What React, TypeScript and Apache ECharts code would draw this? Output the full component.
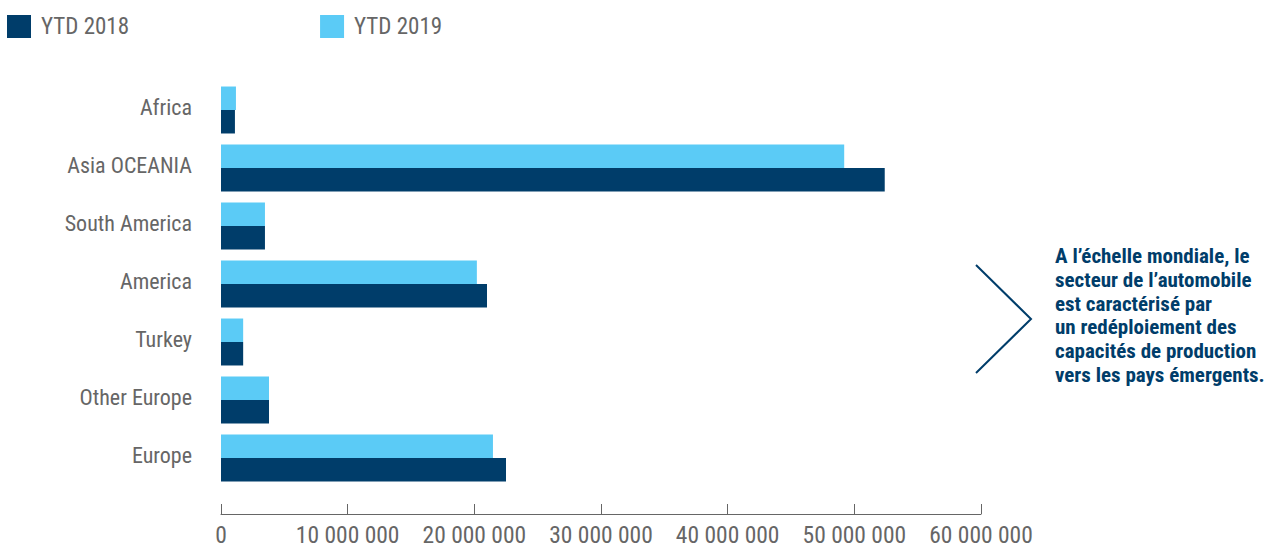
import React, { useEffect, useRef } from "react";
import * as echarts from "echarts";

const categories = ["Africa", "Asia OCEANIA", "South America", "America", "Turkey", "Other Europe", "Europe"];
const ytd2018 = [1100000, 52400000, 3470000, 21000000, 1750000, 3790000, 22500000];
const ytd2019 = [1180000, 49200000, 3470000, 20200000, 1750000, 3790000, 21470000];
const xTicks = { min: 0, max: 60000000, interval: 10000000 };
const noteLines = [
  "A l\u2019échelle mondiale, le",
  "secteur de l\u2019automobile",
  "est caractérisé par",
  "un redéploiement des",
  "capacités de production",
  "vers les pays émergents.",
];

const FONT = "'Liberation Sans Narrow', 'Roboto Condensed', Roboto, sans-serif";
const DARK = "#003d6a";
const LIGHT = "#5bcbf6";
const GREY = "#666666";

const fmt = (v: number) => String(v).replace(/\B(?=(\d{3})+(?!\d))/g, " ");

export default function App() {
  const ref = useRef<HTMLDivElement>(null);
  useEffect(() => {
    if (!ref.current) return;
    const chart = echarts.init(ref.current, undefined, { renderer: "svg" });
    chart.setOption({
      animation: false,
      textStyle: { fontFamily: FONT },
      legend: {
        data: ["YTD 2018", "YTD 2019"],
        left: 7,
        top: 15,
        padding: 0,
        itemWidth: 24,
        itemHeight: 23,
        itemGap: 191,
        icon: "rect",
        textStyle: { color: GREY, fontSize: 23, fontFamily: FONT, padding: [0, 0, 0, 5] },
      },
      grid: { left: 221, top: 81, width: 760, height: 406, containLabel: false },
      xAxis: {
        type: "value",
        min: xTicks.min,
        max: xTicks.max,
        interval: xTicks.interval,
        offset: 27,
        axisLine: { show: true, lineStyle: { color: GREY, width: 1 } },
        axisTick: { show: true, inside: true, length: 10, lineStyle: { color: GREY } },
        splitLine: { show: false },
        axisLabel: {
          color: GREY,
          fontSize: 23.5,
          fontFamily: FONT,
          margin: 9,
          formatter: (v: number) => fmt(v),
        },
      },
      yAxis: {
        type: "category",
        data: categories,
        inverse: true,
        axisLine: { show: false },
        axisTick: { show: false },
        axisLabel: {
          color: GREY,
          fontSize: 22,
          fontFamily: FONT,
          margin: 29,
          formatter: (v: string) => `{a|${v}}`,
          rich: {
            a: { color: GREY, fontSize: 22, fontFamily: FONT, padding: [0, 0, 6, 0] },
          },
        },
      },
      series: [
        {
          name: "YTD 2019",
          type: "bar",
          data: ytd2019,
          itemStyle: { color: LIGHT },
          barGap: "0%",
          barCategoryGap: "19%",
        },
        {
          name: "YTD 2018",
          type: "bar",
          data: ytd2018,
          itemStyle: { color: DARK },
          barGap: "0%",
          barCategoryGap: "19%",
        },
      ],
      graphic: [
        {
          type: "polyline",
          shape: { points: [[976, 265], [1031, 319], [976, 373]] },
          style: { stroke: DARK, lineWidth: 2, fill: "none" },
        },
        {
          type: "text",
          left: 1055,
          top: 244,
          style: {
            text: noteLines.join("\n"),
            fill: DARK,
            font: `bold 21px ${FONT}`,
            lineHeight: 23.8,
          },
        },
      ],
    });
    return () => chart.dispose();
  }, []);
  return <div ref={ref} style={{ position: "absolute", left: 0, top: 0, width: 1275, height: 548 }} />;
}
